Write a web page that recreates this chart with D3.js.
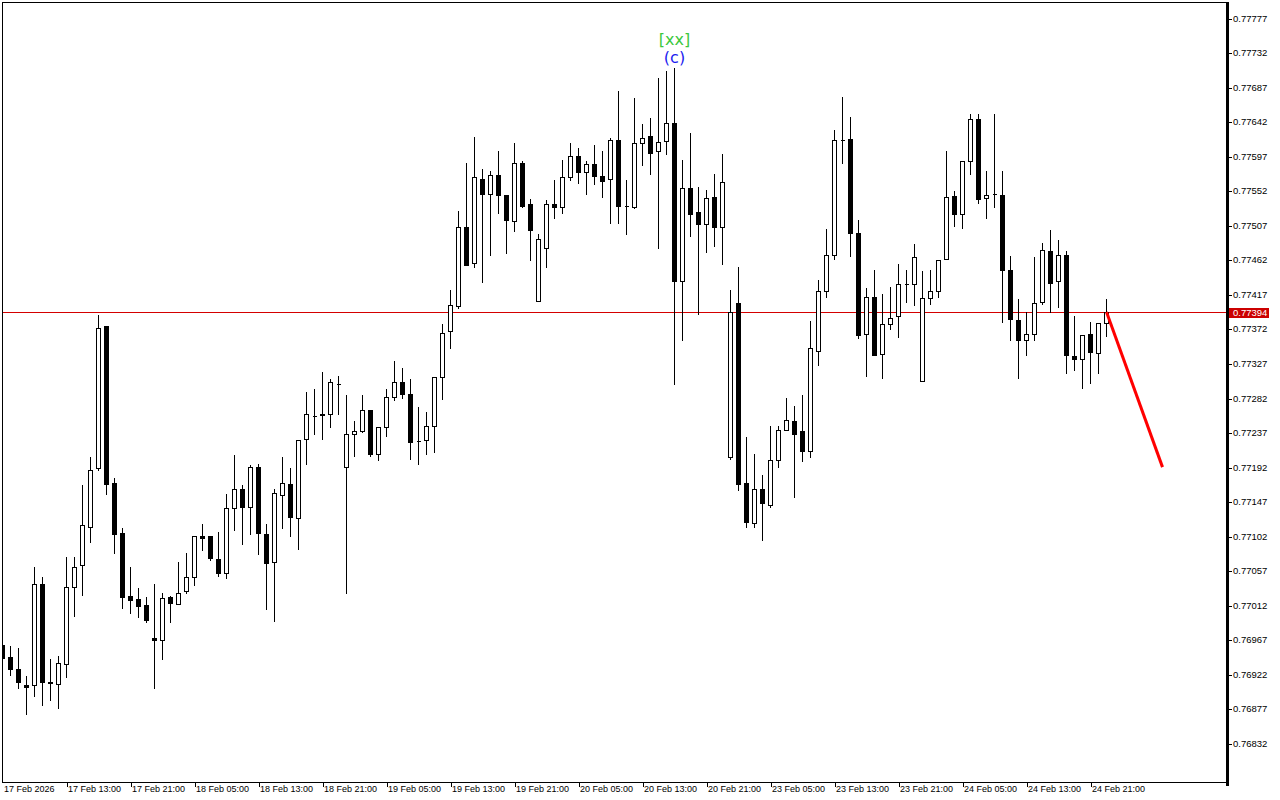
<!DOCTYPE html>
<html><head><meta charset="utf-8">
<script src="https://cdn.jsdelivr.net/npm/d3@7"></script>
<style>html,body{margin:0;padding:0;background:#fff;overflow:hidden}</style>
</head><body><svg id="c" width="1280" height="800"></svg>
<script>
// Hourly bars 17 Feb 2026 05:00 .. 24 Feb 23:00
const opens=[0.76959,0.76944,0.76929,0.76908,0.76907,0.77039,0.76912,0.76909,0.76935,0.77035,
0.77064,0.77113,0.77190,0.77375,0.77171,0.77105,0.77024,0.77020,0.77012,0.76969,
0.76966,0.77022,0.77013,0.77030,0.77048,0.77101,0.77101,0.77072,0.77054,0.77138,
0.77163,0.77140,0.77192,0.77104,0.77068,0.77155,0.77170,0.77125,0.77228,0.77258,
0.77261,0.77261,0.77300,0.77192,0.77235,0.77239,0.77266,0.77209,0.77243,0.77283,
0.77302,0.77287,0.77226,0.77227,0.77245,0.77309,0.77368,0.77401,0.77504,0.77457,
0.77567,0.77547,0.77572,0.77546,0.77512,0.77588,0.77534,0.77408,0.77477,0.77534,
0.77530,0.77569,0.77597,0.77576,0.77586,0.77570,0.77566,0.77618,0.77532,0.77530,
0.77613,0.77622,0.77603,0.77616,0.77639,0.77434,0.77555,0.77524,0.77508,0.77543,
0.77504,0.77205,0.77405,0.77171,0.77118,0.77163,0.77142,0.77200,0.77240,0.77252,
0.77239,0.77212,0.77343,0.77421,0.77467,0.77618,0.77619,0.77496,0.77365,0.77413,
0.77339,0.77378,0.77388,0.77430,0.77430,0.77303,0.77412,0.77421,0.77463,0.77545,
0.77521,0.77590,0.77645,0.77542,0.77547,0.77546,0.77448,0.77383,0.77357,0.77365,
0.77407,0.77473,0.77434,0.77468,0.77336,0.77332,0.77365,0.77340,0.77379];
const highs=[0.76960,0.76959,0.76957,0.76920,0.77062,0.77050,0.76943,0.76947,0.77075,0.77075,
0.77170,0.77206,0.77391,0.77377,0.77179,0.77113,0.77062,0.77035,0.77023,0.77041,
0.77029,0.77025,0.77069,0.77081,0.77102,0.77118,0.77101,0.77108,0.77158,0.77209,
0.77170,0.77196,0.77197,0.77118,0.77164,0.77206,0.77191,0.77227,0.77290,0.77295,
0.77316,0.77308,0.77311,0.77287,0.77253,0.77287,0.77267,0.77245,0.77295,0.77331,
0.77322,0.77307,0.77271,0.77264,0.77309,0.77379,0.77423,0.77526,0.77589,0.77622,
0.77581,0.77578,0.77604,0.77546,0.77615,0.77591,0.77542,0.77496,0.77541,0.77566,
0.77593,0.77615,0.77608,0.77591,0.77612,0.77604,0.77621,0.77682,0.77567,0.77674,
0.77639,0.77648,0.77700,0.77708,0.77713,0.77593,0.77628,0.77557,0.77553,0.77574,
0.77600,0.77423,0.77453,0.77232,0.77210,0.77183,0.77246,0.77246,0.77283,0.77272,
0.77287,0.77383,0.77437,0.77503,0.77632,0.77675,0.77649,0.77514,0.77426,0.77450,
0.77418,0.77427,0.77457,0.77450,0.77483,0.77448,0.77450,0.77463,0.77604,0.77552,
0.77590,0.77652,0.77653,0.77578,0.77652,0.77578,0.77468,0.77411,0.77395,0.77466,
0.77485,0.77502,0.77488,0.77474,0.77390,0.77364,0.77382,0.77381,0.77412];
const lows=[0.76941,0.76921,0.76904,0.76870,0.76893,0.76881,0.76888,0.76877,0.76918,0.76997,
0.77025,0.77094,0.77188,0.77156,0.77080,0.77008,0.77001,0.76996,0.76989,0.76904,
0.76942,0.76989,0.77013,0.77028,0.77038,0.77083,0.77071,0.77049,0.77047,0.77109,
0.77091,0.77104,0.77078,0.77007,0.76991,0.77112,0.77101,0.77085,0.77195,0.77234,
0.77228,0.77243,0.77260,0.77028,0.77206,0.77237,0.77206,0.77201,0.77232,0.77279,
0.77281,0.77202,0.77196,0.77209,0.77211,0.77280,0.77346,0.77399,0.77454,0.77452,
0.77432,0.77467,0.77523,0.77470,0.77499,0.77530,0.77461,0.77408,0.77452,0.77516,
0.77522,0.77565,0.77561,0.77547,0.77560,0.77543,0.77509,0.77509,0.77495,0.77529,
0.77585,0.77573,0.77477,0.77599,0.77300,0.77357,0.77492,0.77391,0.77471,0.77480,
0.77456,0.77202,0.77161,0.77114,0.77113,0.77096,0.77140,0.77192,0.77240,0.77152,
0.77199,0.77204,0.77325,0.77413,0.77463,0.77588,0.77466,0.77359,0.77310,0.77337,
0.77307,0.77371,0.77361,0.77407,0.77402,0.77303,0.77404,0.77413,0.77463,0.77506,
0.77503,0.77573,0.77535,0.77516,0.77530,0.77381,0.77357,0.77308,0.77337,0.77357,
0.77404,0.77394,0.77400,0.77314,0.77318,0.77295,0.77301,0.77314,0.77362];
const closes=[0.76943,0.76928,0.76912,0.76905,0.77039,0.76911,0.76910,0.76936,0.77035,0.77061,
0.77116,0.77188,0.77373,0.77170,0.77104,0.77022,0.77018,0.77010,0.76992,0.76966,
0.77021,0.77015,0.77028,0.77048,0.77101,0.77099,0.77073,0.77054,0.77138,0.77163,
0.77140,0.77192,0.77106,0.77067,0.77157,0.77171,0.77126,0.77227,0.77260,0.77258,
0.77259,0.77302,0.77300,0.77235,0.77239,0.77266,0.77209,0.77243,0.77283,0.77302,
0.77287,0.77224,0.77226,0.77245,0.77309,0.77366,0.77403,0.77504,0.77455,0.77569,
0.77547,0.77572,0.77546,0.77513,0.77588,0.77532,0.77500,0.77489,0.77534,0.77530,
0.77569,0.77597,0.77576,0.77586,0.77570,0.77564,0.77618,0.77532,0.77532,0.77613,
0.77620,0.77601,0.77615,0.77640,0.77434,0.77555,0.77521,0.77508,0.77542,0.77504,
0.77563,0.77394,0.77169,0.77120,0.77163,0.77144,0.77201,0.77240,0.77253,0.77234,
0.77212,0.77347,0.77421,0.77468,0.77618,0.77618,0.77496,0.77364,0.77413,0.77338,
0.77378,0.77386,0.77430,0.77430,0.77465,0.77412,0.77421,0.77461,0.77543,0.77521,
0.77590,0.77645,0.77541,0.77546,0.77547,0.77448,0.77384,0.77357,0.77365,0.77405,
0.77474,0.77431,0.77467,0.77337,0.77332,0.77364,0.77341,0.77379,0.77394];

const xTickIndex=[0,8,16,24,32,40,48,56,64,72,80,88,96,104,112,120,128,136];
const xTickLabels=["17 Feb 2026","17 Feb 13:00","17 Feb 21:00","18 Feb 05:00","18 Feb 13:00",
"18 Feb 21:00","19 Feb 05:00","19 Feb 13:00","19 Feb 21:00","20 Feb 05:00","20 Feb 13:00",
"20 Feb 21:00","23 Feb 05:00","23 Feb 13:00","23 Feb 21:00","24 Feb 05:00","24 Feb 13:00","24 Feb 21:00"];
const yTickValues=[0.77777,0.77732,0.77687,0.77642,0.77597,0.77552,0.77507,0.77462,0.77417,
0.77372,0.77327,0.77282,0.77237,0.77192,0.77147,0.77102,0.77057,0.77012,0.76967,0.76922,0.76877,0.76832];
const currentPrice=0.77394;
const projIndex=[138,145];
const projValue=[0.77394,0.77192];
const waveIndex=84;
const waveTop="[xx]";
const waveBottom="(c)";

const svg=d3.select("#c");
const L=2, R=1226, T=2, B=782;
const x=d3.scaleLinear().domain([0,153]).range([2.5,1226.5]);
const y=d3.scaleLinear().domain([0.76832,0.77777]).range([743.5,18]);
const px=v=>Math.round(v-0.5)+0.5;
const FONT="Liberation Sans, Arial, sans-serif";

svg.append("defs").append("clipPath").attr("id","pc").append("rect")
  .attr("x",L+1).attr("y",T+1).attr("width",R-L-1).attr("height",B-T-1);

const plot=svg.append("g").attr("clip-path","url(#pc)");

// current price line
plot.append("line").attr("x1",L).attr("x2",R).attr("y1",px(y(currentPrice))).attr("y2",px(y(currentPrice)))
  .attr("stroke","#d40000").attr("stroke-width",1).attr("shape-rendering","crispEdges");

const idx=d3.range(opens.length);
const cg=plot.append("g").attr("shape-rendering","crispEdges");
cg.selectAll("line.w").data(idx).join("line").attr("class","w")
  .attr("x1",i=>x(i)).attr("x2",i=>x(i))
  .attr("y1",i=>px(y(highs[i]))).attr("y2",i=>px(y(lows[i])))
  .attr("stroke","#000").attr("stroke-width",1);
cg.selectAll("path.b").data(idx).join("path").attr("class","b")
  .attr("d",i=>{
    const t=px(y(Math.max(opens[i],closes[i]))), b=px(y(Math.min(opens[i],closes[i])));
    const cx=x(i);
    return `M${cx-2},${t}H${cx+2}V${b}H${cx-2}Z`;
  })
  .attr("fill",i=>closes[i]<opens[i]?"#000":"#fff")
  .attr("stroke","#000").attr("stroke-width",1);

// projection
plot.append("path")
  .attr("d",d3.line().x((d,k)=>x(projIndex[k])).y((d,k)=>y(projValue[k]))(projIndex))
  .attr("stroke","#ff0000").attr("stroke-width",3).attr("fill","none");

// wave labels
plot.append("text").attr("x",x(waveIndex)).attr("y",y(highs[waveIndex])-22)
  .attr("text-anchor","middle").attr("font-family","DejaVu Sans").attr("font-size",16)
  .attr("fill","#3cc83c").text(waveTop);
plot.append("text").attr("x",x(waveIndex)).attr("y",y(highs[waveIndex])-4)
  .attr("text-anchor","middle").attr("font-family","DejaVu Sans").attr("font-size",16)
  .attr("fill","#1c1cf0").text(waveBottom);

// frame (left, top, bottom)
const fr=svg.append("g").attr("shape-rendering","crispEdges").attr("stroke","#000");
fr.append("line").attr("x1",L+0.5).attr("x2",L+0.5).attr("y1",T).attr("y2",B+1);
fr.append("line").attr("x1",L).attr("x2",R).attr("y1",T+0.5).attr("y2",T+0.5);
fr.append("line").attr("x1",L).attr("x2",R+3).attr("y1",B+0.5).attr("y2",B+0.5);
// thick right axis line
svg.append("rect").attr("x",R).attr("y",T).attr("width",3).attr("height",B-T+4).attr("fill","#000");

// right axis
const ya=svg.append("g").attr("transform",`translate(${R+3},0)`)
  .call(d3.axisRight(y).tickValues(yTickValues).tickSize(3).tickPadding(1).tickFormat(d3.format(".5f")));
ya.select(".domain").remove();
ya.selectAll("line").attr("shape-rendering","crispEdges").attr("transform",d=>`translate(0,${px(y(d))-y(d)})`);
ya.selectAll("text").attr("font-family",FONT).attr("font-size",9.5).attr("fill","#000");

// bottom axis
const xa=svg.append("g").attr("transform",`translate(0,${B+0.5})`)
  .call(d3.axisBottom(x).tickValues(xTickIndex).tickSize(4).tickFormat((d,k)=>xTickLabels[k]));
xa.select(".domain").remove();
xa.selectAll("line").attr("shape-rendering","crispEdges");
xa.selectAll("text").attr("text-anchor","start").attr("dx",1).attr("dy",0).attr("y",9.5)
  .attr("font-family",FONT).attr("font-size",9).attr("fill","#000");
xa.select(".tick line").remove();

// current price tag
const cy=y(currentPrice);
svg.append("rect").attr("x",R+3).attr("y",Math.round(cy)-4).attr("width",40).attr("height",10)
  .attr("fill","#cc0000");
svg.append("text").attr("x",R+7).attr("y",cy+1).attr("dy","0.35em").attr("fill","#fff")
  .attr("font-family",FONT).attr("font-size",9.5).text(d3.format(".5f")(currentPrice));
</script></body></html>
